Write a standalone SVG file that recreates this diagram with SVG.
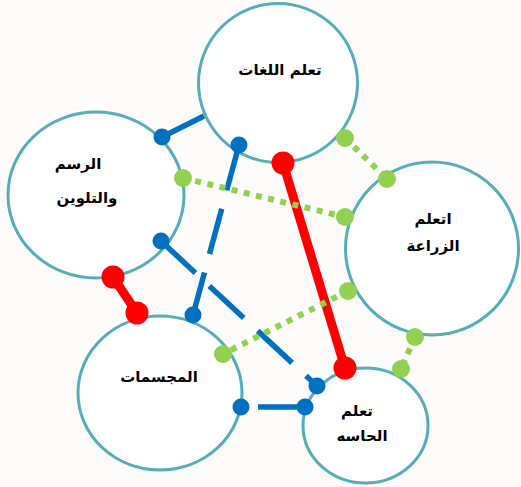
<svg xmlns="http://www.w3.org/2000/svg" width="521" height="487" viewBox="0 0 521 487">
<style>
.node{fill:#ffffff;stroke:#55adb8;stroke-width:3}
.lbl{font-family:"DejaVu Sans",sans-serif;font-weight:bold;font-size:15px;fill:#000;text-anchor:middle}
.blue{stroke:#0070c0;stroke-width:5.5;fill:none}
.dash{stroke-dasharray:47 19}
.red{stroke:#ff0000;stroke-width:9;fill:none}
.green{stroke:#92d050;stroke-width:6;fill:none;stroke-dasharray:6 6.5}
.bd{fill:#0070c0}
.rd{fill:#ff0000}
.gd{fill:#92d050}
</style>
<rect width="521" height="487" fill="#fdfcfb"/>
<g id="node-languages"><ellipse class="node" cx="278" cy="83" rx="79.5" ry="79.5"/><text class="lbl" x="280" y="75">تعلم اللغات</text></g>
<g id="node-drawing"><ellipse class="node" cx="96" cy="195" rx="88" ry="83"/><text class="lbl" x="78" y="169">الرسم</text><text class="lbl" x="87" y="203">والتلوين</text></g>
<g id="node-agriculture"><ellipse class="node" cx="432" cy="248.5" rx="86.5" ry="86.5"/><text class="lbl" x="433" y="224">اتعلم</text><text class="lbl" x="433" y="251">الزراعة</text></g>
<g id="node-solids"><ellipse class="node" cx="160" cy="393" rx="82" ry="77"/><text class="lbl" x="159" y="382">المجسمات</text></g>
<g id="node-senses"><ellipse class="node" cx="365.5" cy="425.5" rx="62.5" ry="57.5"/><text class="lbl" x="357" y="416">تعلم</text><text class="lbl" x="362" y="441">الحاسه</text></g>
<g id="connectors">
<line class="blue" x1="162" y1="137" x2="204" y2="116"/>
<line class="blue dash" x1="239" y1="145" x2="193" y2="315"/>
<line class="blue dash" x1="161" y1="241" x2="317" y2="386"/>
<line class="blue dash" x1="305" y1="407" x2="241" y2="407"/>
<line class="red" x1="283" y1="163" x2="345" y2="368"/>
<line class="red" x1="113" y1="277" x2="137" y2="313"/>
<line class="green" x1="345" y1="138" x2="387" y2="179"/>
<line class="green" x1="183" y1="178" x2="345" y2="217"/>
<line class="green" x1="348" y1="291" x2="223" y2="354"/>
<line class="green" x1="415" y1="337" x2="401" y2="369"/>
<circle class="bd" cx="162" cy="137" r="8.5"/>
<circle class="bd" cx="239" cy="145" r="8.5"/>
<circle class="bd" cx="193" cy="315" r="8.5"/>
<circle class="bd" cx="161" cy="241" r="8.5"/>
<circle class="bd" cx="317" cy="386" r="8.5"/>
<circle class="bd" cx="241" cy="407" r="8.5"/>
<circle class="bd" cx="305" cy="407" r="8.5"/>
<circle class="rd" cx="283" cy="163" r="11.5"/>
<circle class="rd" cx="345" cy="368" r="11.5"/>
<circle class="rd" cx="113" cy="277" r="11.5"/>
<circle class="rd" cx="137" cy="313" r="11.5"/>
<circle class="gd" cx="345" cy="138" r="9"/>
<circle class="gd" cx="387" cy="179" r="9"/>
<circle class="gd" cx="183" cy="178" r="9"/>
<circle class="gd" cx="345" cy="217" r="9"/>
<circle class="gd" cx="348" cy="291" r="9"/>
<circle class="gd" cx="223" cy="354" r="9"/>
<circle class="gd" cx="415" cy="337" r="9"/>
<circle class="gd" cx="401" cy="369" r="9"/>
</g>
</svg>
